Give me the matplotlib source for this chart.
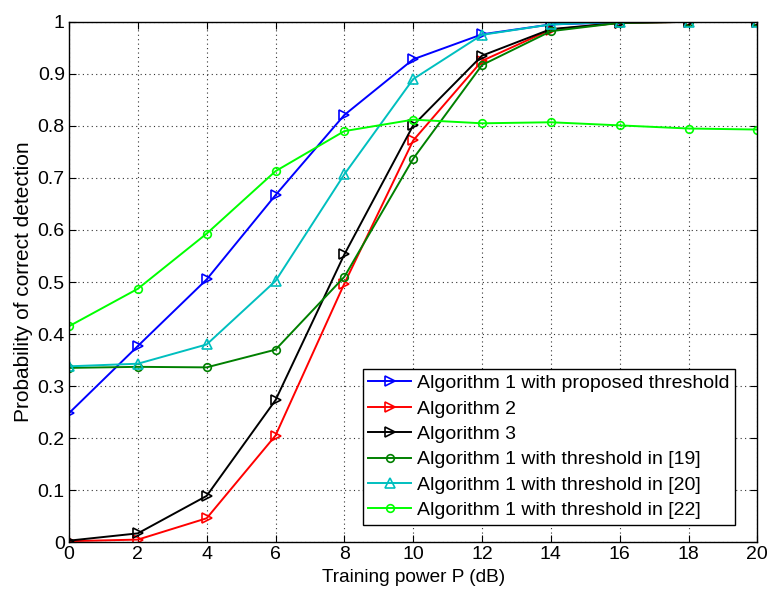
import matplotlib
matplotlib.use("Agg")
import matplotlib.pyplot as plt

plt.rcParams['font.family'] = ['Liberation Sans', 'DejaVu Sans']

power_db = [0, 2, 4, 6, 8, 10, 12, 14, 16, 18, 20]
alg1_proposed = [0.248, 0.377, 0.505, 0.667, 0.821, 0.928, 0.976, 0.995, 0.999, 1.0, 1.0]
alg2 = [0.002, 0.005, 0.046, 0.205, 0.497, 0.772, 0.925, 0.985, 0.998, 1.0, 1.0]
alg3 = [0.003, 0.017, 0.089, 0.273, 0.553, 0.801, 0.935, 0.986, 0.998, 1.0, 1.0]
alg1_th19 = [0.335, 0.337, 0.336, 0.370, 0.510, 0.737, 0.917, 0.982, 0.998, 1.0, 1.0]
alg1_th20 = [0.338, 0.343, 0.380, 0.502, 0.707, 0.890, 0.975, 0.995, 1.0, 1.0, 1.0]
alg1_th22 = [0.415, 0.487, 0.593, 0.713, 0.790, 0.812, 0.805, 0.807, 0.801, 0.795, 0.793]

labels = ["Algorithm 1 with proposed threshold", "Algorithm 2", "Algorithm 3",
          "Algorithm 1 with threshold in [19]", "Algorithm 1 with threshold in [20]",
          "Algorithm 1 with threshold in [22]"]
ytick_labels = ["0", "0.1", "0.2", "0.3", "0.4", "0.5", "0.6", "0.7", "0.8", "0.9", "1"]

fig = plt.figure(figsize=(7.7, 5.9), dpi=100)
ax = fig.add_axes([0.0896, 0.081, 0.894, 0.882])

series = [
    (alg1_proposed, "#0000ff", ">", 7),
    (alg2, "#ff0000", ">", 7),
    (alg3, "#000000", ">", 7),
    (alg1_th19, "#008000", "o", 5.5),
    (alg1_th20, "#00bfbf", "^", 7),
    (alg1_th22, "#00ff00", "o", 5.5),
]
for (vals, color, mk, ms), lab in zip(series, labels):
    ax.plot(power_db, vals, color=color, marker=mk, markersize=ms,
            markerfacecolor="none", markeredgewidth=1.2, linewidth=1.4, label=lab)

ax.set_xlim(0, 20)
ax.set_ylim(0, 1)
ax.set_xticks(power_db)
ax.set_yticks([i / 10 for i in range(11)])
ax.set_yticklabels(ytick_labels)
ax.tick_params(direction="in", top=True, right=True, labelsize=14, length=5, pad=3)
ax.grid(True, linestyle=(0, (1, 3)), color="#333333", linewidth=0.8)
for s in ax.spines.values():
    s.set_linewidth(1.0)

ax.set_xlabel("Training power P (dB)", fontsize=13.7, labelpad=4)
ax.set_ylabel("Probability of correct detection", fontsize=15, labelpad=3)

leg = ax.legend(loc="lower right", bbox_to_anchor=(0.968, 0.033), borderaxespad=0,
                fontsize=14, fancybox=False, framealpha=1, edgecolor="black",
                handlelength=2.2, handletextpad=0.3, borderpad=0.3, labelspacing=0.4)
leg.get_frame().set_linewidth(1.0)

fig.savefig("out.png", dpi=100)
